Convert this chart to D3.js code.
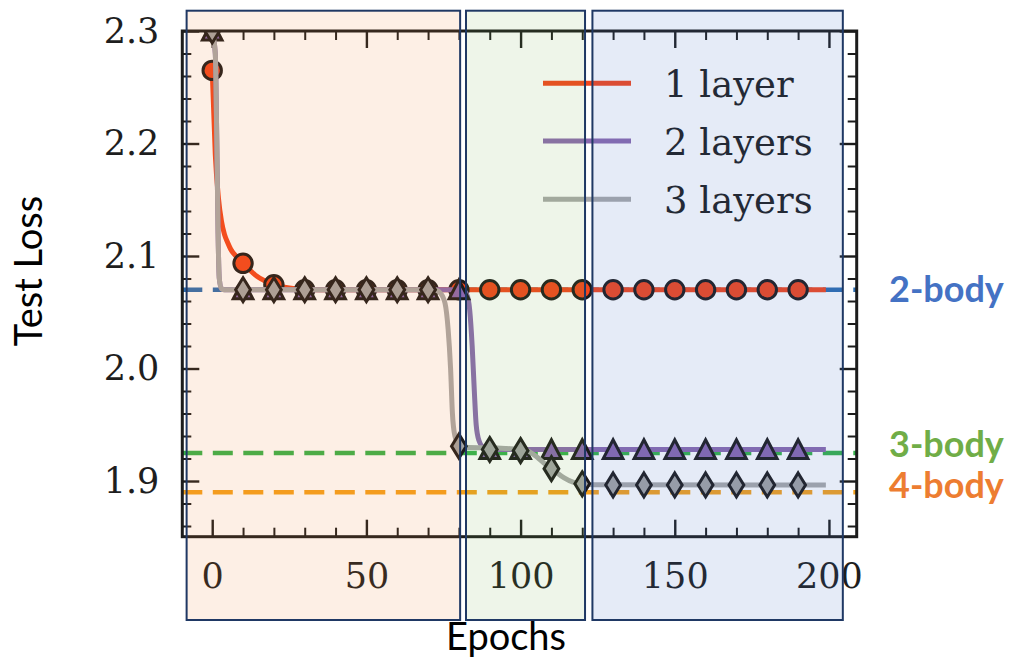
<!DOCTYPE html>
<html>
<head>
<meta charset="utf-8">
<script src="https://cdn.jsdelivr.net/npm/d3@7"></script>
<style>
  html, body { margin: 0; padding: 0; background: #fff; }
  svg { display: block; }
</style>
</head>
<body>
<svg id="chart" width="1015" height="659"></svg>
<script>
// Test loss against training epochs for networks with 1, 2 and 3 layers.

const epochTicks = [0, 50, 100, 150, 200];
const epochMinorTicks = [10, 20, 30, 40, 60, 70, 80, 90, 110, 120, 130, 140, 160, 170, 180, 190];
const lossTicks = [1.9, 2.0, 2.1, 2.2, 2.3];
const lossMinorTicks = [1.86, 1.88, 1.92, 1.94, 1.96, 1.98, 2.02, 2.04, 2.06, 2.08,
                        2.12, 2.14, 2.16, 2.18, 2.22, 2.24, 2.26, 2.28];

const seriesNames = ["1 layer", "2 layers", "3 layers"];

// Loss curves as [epoch, loss]
const curve1Layer = [
  [0, 2.265], [1, 2.19], [2, 2.152], [3, 2.131], [4, 2.119], [5, 2.112], [6, 2.106],
  [8, 2.099], [10, 2.0935], [12, 2.088], [14, 2.083], [17, 2.078], [20, 2.0745],
  [25, 2.0715], [30, 2.0703], [40, 2.07], [199, 2.07]
];
const curve2Layers = [
  [0, 2.3], [1, 2.28], [1.5, 2.2], [1.9, 2.12], [2.3, 2.08], [3, 2.071], [4, 2.07],
  [81, 2.07], [82.5, 2.066], [83.5, 2.052], [84.3, 2.02], [85, 1.98], [85.6, 1.95],
  [86.5, 1.936], [88, 1.93], [92, 1.928], [199, 1.928]
];
const curve3Layers = [
  [0, 2.3], [1, 2.28], [1.5, 2.2], [1.9, 2.12], [2.3, 2.08], [3, 2.071], [4, 2.07],
  [72, 2.07], [74, 2.067], [75.5, 2.058], [76.5, 2.035], [77.3, 2.0], [77.9, 1.96],
  [78.7, 1.94], [80, 1.932], [82, 1.930], [95, 1.929], [102, 1.927], [105, 1.922],
  [108, 1.915], [111, 1.909], [114, 1.903], [117, 1.899], [120, 1.8975], [124, 1.8967],
  [199, 1.8965]
];

// Marker values every 10 epochs
const markerEpochs = [0, 10, 20, 30, 40, 50, 60, 70, 80, 90, 100, 110, 120, 130, 140, 150, 160, 170, 180, 190];
const marks1Layer = [2.265, 2.0935, 2.0745, 2.07, 2.07, 2.07, 2.07, 2.07, 2.07, 2.07,
                     2.07, 2.07, 2.07, 2.07, 2.07, 2.07, 2.07, 2.07, 2.07, 2.07];
const marks2Layers = [2.3, 2.07, 2.07, 2.07, 2.07, 2.07, 2.07, 2.07, 2.07, 1.928,
                      1.928, 1.928, 1.928, 1.928, 1.928, 1.928, 1.928, 1.928, 1.928, 1.928];
const marks3Layers = [2.3, 2.07, 2.07, 2.07, 2.07, 2.07, 2.07, 2.07, 1.931, 1.928,
                      1.927, 1.911, 1.8975, 1.8965, 1.8965, 1.8965, 1.8965, 1.8965, 1.8965, 1.8965];

// Reference losses of n-body models
const bodyNames = ["2-body", "3-body", "4-body"];
const bodyLoss = [2.07, 1.925, 1.89];

// Training phases (epochs)
const phaseStart = [-8.3, 82.3, 123.3];
const phaseEnd = [80.4, 120.9, 204.5];

// ---------------------------------------------------------------------------
const svg = d3.select("#chart");
const plot = { left: 182.3, right: 856.7, top: 31, bottom: 536.7 };

const x = d3.scaleLinear().domain([-9.7, 209]).range([plot.left, plot.right]);
const y = d3.scaleLinear().domain([1.8505, 2.3]).range([plot.bottom, plot.top]);

const lineColors = ["#f4461c", "#8b6aaf", "#a9a9a9"];
const edgeColor = "#1c1a1a";
const bodyLineColors = ["#2d6db0", "#36b24a", "#f5a11c"];
const bodyTextColors = ["#4472C4", "#70AD47", "#ED7D31"];
const phaseColors = ["#ED7D31", "#70AD47", "#4472C4"];
const phaseOpacity = [0.125, 0.12, 0.14];
const serif = "'DejaVu Serif', serif";
const sans = "Lato, 'Open Sans', sans-serif";

svg.append("rect").attr("width", 1015).attr("height", 659).attr("fill", "#fff");

svg.append("defs").append("clipPath").attr("id", "plotClip")
  .append("rect")
  .attr("x", plot.left).attr("y", plot.top)
  .attr("width", plot.right - plot.left).attr("height", plot.bottom - plot.top);

// Axes with inward ticks on all four sides
function tidy(g, w) {
  g.select(".domain").remove();
  g.selectAll(".tick line").attr("stroke", "#1c1c1c").attr("stroke-width", w);
  g.selectAll(".tick text").attr("fill", "#1e1e1e")
    .style("font-family", serif).style("font-size", "35px");
}

svg.append("g").attr("transform", `translate(0,${plot.bottom})`)
  .call(d3.axisBottom(x).tickValues(epochTicks).tickSize(-17).tickPadding(26).tickFormat(d3.format("d")))
  .call(g => tidy(g, 2.4));
svg.append("g").attr("transform", `translate(0,${plot.bottom})`)
  .call(d3.axisBottom(x).tickValues(epochMinorTicks).tickSize(-9).tickFormat(""))
  .call(g => tidy(g, 2));
svg.append("g").attr("transform", `translate(0,${plot.top})`)
  .call(d3.axisTop(x).tickValues(epochTicks).tickSize(-17).tickFormat(""))
  .call(g => tidy(g, 2.4));
svg.append("g").attr("transform", `translate(0,${plot.top})`)
  .call(d3.axisTop(x).tickValues(epochMinorTicks).tickSize(-9).tickFormat(""))
  .call(g => tidy(g, 2));

svg.append("g").attr("transform", `translate(${plot.left},0)`)
  .call(d3.axisLeft(y).tickValues(lossTicks).tickSize(-17).tickPadding(23).tickFormat(d3.format(".1f")))
  .call(g => tidy(g, 2.4));
svg.append("g").attr("transform", `translate(${plot.left},0)`)
  .call(d3.axisLeft(y).tickValues(lossMinorTicks).tickSize(-9).tickFormat(""))
  .call(g => tidy(g, 2));
svg.append("g").attr("transform", `translate(${plot.right},0)`)
  .call(d3.axisRight(y).tickValues(lossTicks).tickSize(-17).tickFormat(""))
  .call(g => tidy(g, 2.4));
svg.append("g").attr("transform", `translate(${plot.right},0)`)
  .call(d3.axisRight(y).tickValues(lossMinorTicks).tickSize(-9).tickFormat(""))
  .call(g => tidy(g, 2));

// Data layer
const data = svg.append("g").attr("clip-path", "url(#plotClip)");

// dashed n-body reference levels
data.selectAll("line.body")
  .data(bodyLoss)
  .join("line")
  .attr("class", "body")
  .attr("x1", plot.left).attr("x2", plot.right)
  .attr("y1", d => y(d)).attr("y2", d => y(d))
  .attr("stroke", (d, i) => bodyLineColors[i])
  .attr("stroke-width", 4.5)
  .attr("stroke-dasharray", "20,10.5");

const line = d3.line().x(d => x(d[0])).y(d => y(d[1])).curve(d3.curveMonotoneX);

const circle = d3.symbol().type(d3.symbolCircle).size(Math.PI * 9.2 * 9.2);
const triangle = "M0,-9.8L9.8,9L-9.8,9Z";
const diamond = "M0,-12L7.4,0L0,12L-7.4,0Z";

const series = [
  { curve: curve1Layer, marks: marks1Layer, shape: circle(), fill: lineColors[0] },
  { curve: curve2Layers, marks: marks2Layers, shape: triangle, fill: "#8a68b0" },
  { curve: curve3Layers, marks: marks3Layers, shape: diamond, fill: "#a4a4a4" }
];

series.forEach((s, i) => {
  data.append("path")
    .datum(s.curve)
    .attr("fill", "none")
    .attr("stroke", lineColors[i])
    .attr("stroke-width", 5)
    .attr("d", line);
  data.append("g")
    .selectAll("path")
    .data(markerEpochs.map((e, k) => [e, s.marks[k]]))
    .join("path")
    .attr("transform", d => `translate(${x(d[0])},${y(d[1])})`)
    .attr("d", s.shape)
    .attr("fill", s.fill)
    .attr("stroke", edgeColor)
    .attr("stroke-width", 3)
    .attr("stroke-linejoin", "miter");
});

// frame
svg.append("rect")
  .attr("x", plot.left).attr("y", plot.top)
  .attr("width", plot.right - plot.left).attr("height", plot.bottom - plot.top)
  .attr("fill", "none").attr("stroke", "#1c1c1c").attr("stroke-width", 3);

// legend
const legendY = [83.3, 141, 199.3];
const legend = svg.append("g");
seriesNames.forEach((name, i) => {
  legend.append("line")
    .attr("x1", 543).attr("x2", 631)
    .attr("y1", legendY[i]).attr("y2", legendY[i])
    .attr("stroke", lineColors[i]).attr("stroke-width", 5);
  legend.append("text")
    .attr("x", 664).attr("y", legendY[i] + 14)
    .attr("fill", "#1e1e1e")
    .style("font-family", serif).style("font-size", "37px")
    .text(name);
});

// translucent phase panels
svg.append("g").selectAll("rect")
  .data(phaseStart)
  .join("rect")
  .attr("x", (d, i) => x(d))
  .attr("y", 10.7)
  .attr("width", (d, i) => x(phaseEnd[i]) - x(d))
  .attr("height", 609.3)
  .attr("fill", (d, i) => phaseColors[i])
  .attr("fill-opacity", (d, i) => phaseOpacity[i])
  .attr("stroke", "#1F3864")
  .attr("stroke-width", 2);

// axis titles
svg.append("text")
  .attr("transform", "translate(42,271) rotate(-90)")
  .attr("text-anchor", "middle")
  .style("font-family", sans).style("font-size", "38px")
  .attr("fill", "#000")
  .text("Test Loss");

svg.append("text")
  .attr("x", 506).attr("y", 650)
  .attr("text-anchor", "middle")
  .style("font-family", sans).style("font-size", "38px")
  .attr("fill", "#000")
  .text("Epochs");

// n-body labels
const bodyLabelY = [302, 457, 498];
svg.append("g").selectAll("text")
  .data(bodyNames)
  .join("text")
  .attr("x", 889)
  .attr("y", (d, i) => bodyLabelY[i])
  .attr("fill", (d, i) => bodyTextColors[i])
  .style("font-family", sans).style("font-size", "36px").style("font-weight", "bold")
  .text(d => d);
</script>
</body>
</html>
